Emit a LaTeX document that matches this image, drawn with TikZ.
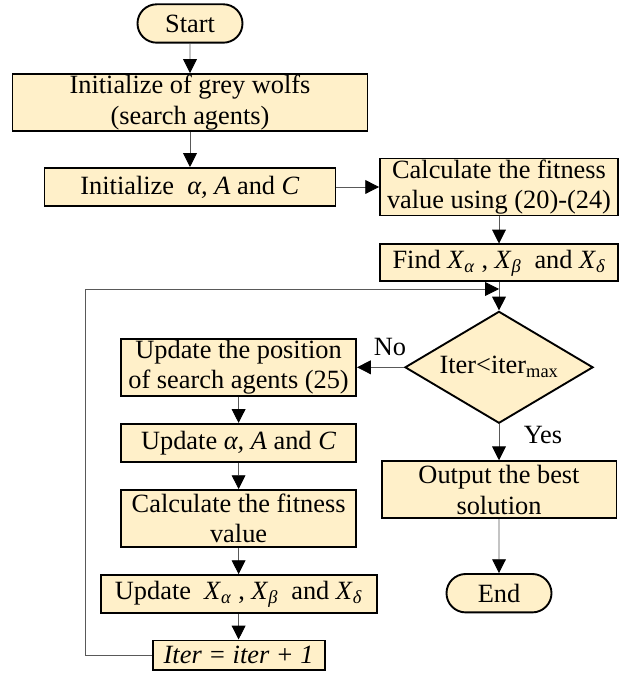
\documentclass[tikz,border=0pt]{standalone}
\usepackage{fontspec}
\setmainfont{Liberation Serif}
\usetikzlibrary{shapes.geometric,shapes.misc,arrows.meta,positioning}
\definecolor{boxfill}{RGB}{255,240,201}
\newcommand{\Xs}[1]{\textit{X}\textsubscript{\textit{#1}}}

\begin{document}
\begin{tikzpicture}[node distance=2.52cm, font=\fontsize{25pt}{29pt}\selectfont]
    % Define styles
    \tikzstyle{process} = [rectangle, draw=black, line width=1.8pt, fill=boxfill, align=center, inner sep=0pt, minimum width=7.83cm, minimum height=1.9cm]
    \tikzstyle{single} = [process, minimum height=1.27cm]
    \tikzstyle{terminal} = [rounded rectangle, draw=black, line width=1.8pt, fill=boxfill, inner sep=0pt, minimum width=3.5cm, minimum height=1.28cm]
    \tikzstyle{decision} = [diamond, draw=black, line width=1.8pt, fill=boxfill, inner sep=0pt, shape aspect=1.68, minimum width=6.27cm, minimum height=3.73cm]
    \tikzstyle{arrow} = [draw=black!65, line width=0.8pt, -{Triangle[length=0.46cm, width=0.46cm, color=black]}]
    \useasboundingbox (0,0) rectangle (20.767,-22.633);

    % Start and initialisation
    \node [terminal] (start) at (6.333,-0.783) {Start};
    \node [process, below of=start, node distance=2.633cm, minimum width=11.83cm] (init) {Initialize of grey wolfs\\(search agents)};
    \node [single, below of=init, node distance=2.817cm, minimum width=9.7cm] (initpar) {Initialize~ \textit{α, A} and \textit{C}};
    \node [process, right of=initpar, node distance=10.3cm, minimum width=7.93cm] (calc) {Calculate the fitness\\value using (20)-(24)};
    \node [single, below of=calc, node distance=2.53cm, minimum width=7.93cm, minimum height=1.23cm] (find) {Find \Xs{α}~, \Xs{β}~ and \Xs{δ}};
    \coordinate [below of=find, node distance=0.87cm] (merge);

    % Main loop
    \node [decision, below of=find, node distance=3.48cm] (check) {Iter<iter\textsubscript{max}};
    \node [process, left of=check, node distance=8.68cm] (updpos) {Update the position\\of search agents (25)};
    \node [single, below of=updpos] (updpar) {Update \textit{α, A} and \textit{C}};
    \node [process, below of=updpar] (fitness) {Calculate the fitness\\value};
    \node [single, below of=fitness, minimum width=9.2cm] (updx) {Update~ \Xs{α}~, \Xs{β}~ and \Xs{δ}};
    \node [single, below of=updx, node distance=2.03cm, minimum width=5.73cm, minimum height=0.97cm] (iter) {\textit{Iter = iter + 1}};

    % Results
    \node [process, below of=check, node distance=4.08cm] (output) {Output the best\\solution};
    \node [terminal, below of=output, node distance=3.45cm] (finish) {End};

    % Arrows
    \draw [arrow] (start) -- (init);
    \draw [arrow] (init) -- (initpar);
    \draw [arrow] (initpar) -- (calc);
    \draw [arrow] (calc) -- (find);
    \draw [arrow] (find) -- (check);
    \draw [arrow] (check) -- (updpos);
    \draw [arrow] (updpos) -- (updpar);
    \draw [arrow] (updpar) -- (fitness);
    \draw [arrow] (fitness) -- (updx);
    \draw [arrow] (updx) -- (iter);
    \draw [arrow] (iter.west) -- ++(-2.2,0) |- (merge);
    \draw [arrow] (check) -- (output);
    \draw [arrow] (output) -- (finish);

    % Branch labels
    \node (nolabel) at (13.0,-11.57) {No};
    \node (yeslabel) at (18.1,-14.5) {Yes};
\end{tikzpicture}
\end{document}
